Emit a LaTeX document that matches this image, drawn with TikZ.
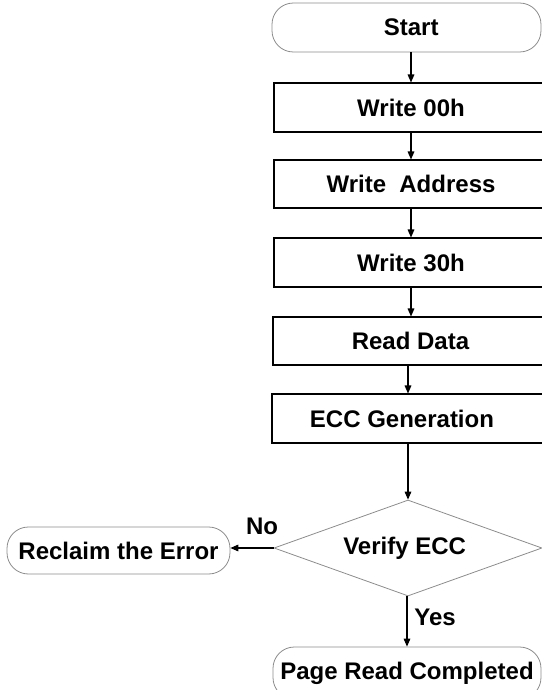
\documentclass[tikz,border=0pt]{standalone}
\usepackage{fontspec}
\setmainfont{Liberation Sans}
\usetikzlibrary{arrows.meta,shapes.geometric}
\begin{document}
\begin{tikzpicture}[x=0.75pt,y=-0.75pt,
  txt/.style={font=\bfseries\fontsize{18pt}{20pt}\selectfont, text=black},
  rbox/.style={txt, rectangle, draw=black, line width=0.8pt, inner sep=0pt},
  term/.style={txt, rectangle, rounded corners=16pt, draw=black!45, line width=0.6pt, inner sep=0pt},
  dec/.style={txt, diamond, shape aspect=2.8, draw=black!45, line width=0.6pt, inner sep=0pt},
  arr/.style={draw=black, line width=0.8pt, -{Triangle[length=6pt,width=5pt]}},
  lbl/.style={txt}
]
\useasboundingbox (0,0) rectangle (542,690);
\clip (0,0) rectangle (542,690);
\node[term, minimum width=201.75pt, minimum height=36.75pt] (start) at (406.5,27.5) {\hspace*{7pt}\raisebox{-3.5pt}{Start}};
\node[rbox, minimum width=205.5pt, minimum height=36.75pt] (w00) at (411,107.5) {Write 00h};
\node[rbox, minimum width=205.5pt, minimum height=36pt] (wad) at (411,184) {Write\ \ Address};
\node[rbox, minimum width=205.5pt, minimum height=36.75pt] (w30) at (411,262.5) {Write 30h};
\node[rbox, minimum width=206.25pt, minimum height=36pt] (rd) at (410.5,341) {Read Data};
\node[rbox, minimum width=207pt, minimum height=36.75pt] (ecc) at (410,418.5) {ECC Generation\hspace*{12pt}};
\node[dec, minimum width=201pt, minimum height=72pt] (ver) at (408,548) {Verify ECC\hspace*{5pt}};
\node[term, minimum width=167.25pt, minimum height=35.25pt] (rec) at (118.5,550.5) {Reclaim the Error};
\node[term, minimum width=201pt, minimum height=39pt] (page) at (407,673) {\raisebox{-1.5pt}{Page Read Completed}};
\node[lbl] (no) at (262,526) {No};
\node[lbl] (yes) at (435,617) {Yes};
\coordinate (c1) at (411,0);
\coordinate (c2) at (408,0);
\coordinate (c3) at (407,0);
\draw[arr] (start.south -| c1) -- (w00.north -| c1);
\draw[arr] (w00.south -| c1) -- (wad.north -| c1);
\draw[arr] (wad.south -| c1) -- (w30.north -| c1);
\draw[arr] (w30.south -| c1) -- (rd.north -| c1);
\draw[arr] (rd.south -| c2) -- (ecc.north -| c2);
\draw[arr] (ecc.south -| c2) -- (ver.north);
\draw[arr] (ver.west) -- (rec.east |- ver.west);
\draw[arr] (ver.south -| c3) -- (page.north -| c3);
\end{tikzpicture}
\end{document}
